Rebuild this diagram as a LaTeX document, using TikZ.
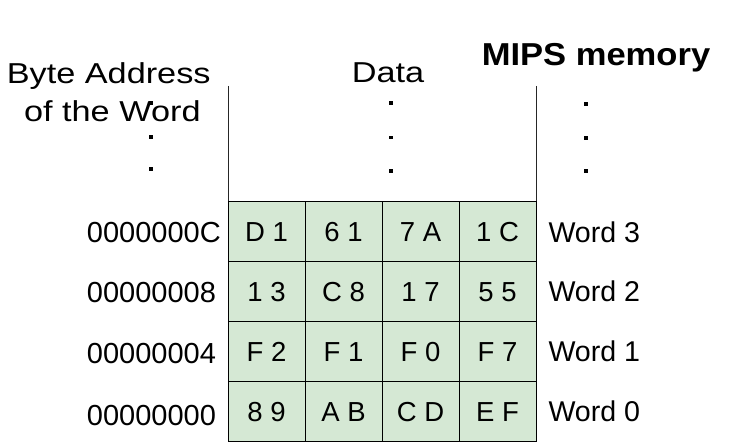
\documentclass[tikz,border=0pt]{standalone}
\usepackage{fontspec}
\setmainfont{Liberation Sans}
\newfontfamily\headfont[FakeStretch=1.19]{Liberation Sans}
\newfontfamily\titlefont[FakeStretch=1.09]{Liberation Sans}
\usepackage{xcolor}
\usepackage{tikz}
\usetikzlibrary{positioning}
\definecolor{cellgreen}{HTML}{D5E8D4}

\begin{document}
\begin{tikzpicture}[x=1pt, y=-1pt,
    cell/.style={draw, fill=cellgreen, line width=1pt, minimum width=77pt, minimum height=60pt, inner sep=0pt, outer sep=0pt, text height=19.7pt, text depth=0pt, font=\fontsize{27.5}{30}\selectfont},
    head/.style={anchor=base, inner sep=0pt, font=\headfont\fontsize{28.8}{34}\selectfont},
    addr/.style={anchor=base west, inner sep=0pt, font=\fontsize{29}{34}\selectfont},
    wordlbl/.style={anchor=base west, inner sep=0pt, font=\fontsize{28.6}{34}\selectfont},
    wall/.style={line width=1pt, black!85}
]
    \useasboundingbox (0,0) rectangle (741,446);

    % Titles
    \node[anchor=base, inner sep=0pt, font=\titlefont\bfseries\fontsize{31.7}{36}\selectfont] (title) at (596,66) {MIPS memory};
    \node[head] (addrhead) at (108.7,83.3) {Byte Address};
    \node[head] (addrhead2) at (112.3,121.7) {of the Word};
    \node[head] (datahead) at (388,82.3) {Data};

    % Memory cells
    \foreach \r/\y/\a/\b/\c/\d in {3/231.5/D 1/6 1/7 A/1 C, 2/291.5/1 3/C 8/1 7/5 5, 1/351.5/F 2/F 1/F 0/F 7, 0/411.5/8 9/A B/C D/E F} {
        \node[cell] (c\r0) at (266.5,\y) {\a};
        \node[cell] (c\r1) at (343.5,\y) {\b};
        \node[cell] (c\r2) at (420.5,\y) {\c};
        \node[cell] (c\r3) at (497.5,\y) {\d};
    }

    % Addresses
    \node[addr] (a3) at (86.7,242.3) {0000000C};
    \node[addr] (a2) at (86.7,302.7) {00000008};
    \node[addr] (a1) at (86.7,363.3) {00000004};
    \node[addr] (a0) at (86.7,425) {00000000};

    % Word labels
    \node[wordlbl] (w3) at (548.3,242.7) {Word 3};
    \node[wordlbl] (w2) at (548.3,301.7) {Word 2};
    \node[wordlbl] (w1) at (548.3,361.7) {Word 1};
    \node[wordlbl] (w0) at (548.3,421.7) {Word 0};

    % Memory walls above the cells
    \coordinate (walll) at (228,86);
    \coordinate (wallr) at (536,86);
    \draw[wall] (walll) -- (c30.north west);
    \draw[wall] (wallr) -- (c33.north east);

    % Dots
    \foreach \x/\y in {151/103, 151/137, 151/169, 391/103, 391/137.5, 391/171, 586/104, 586/138, 586/171}
        \fill (\x-1.8,\y-1.8) rectangle (\x+1.8,\y+1.8);
\end{tikzpicture}
\end{document}
